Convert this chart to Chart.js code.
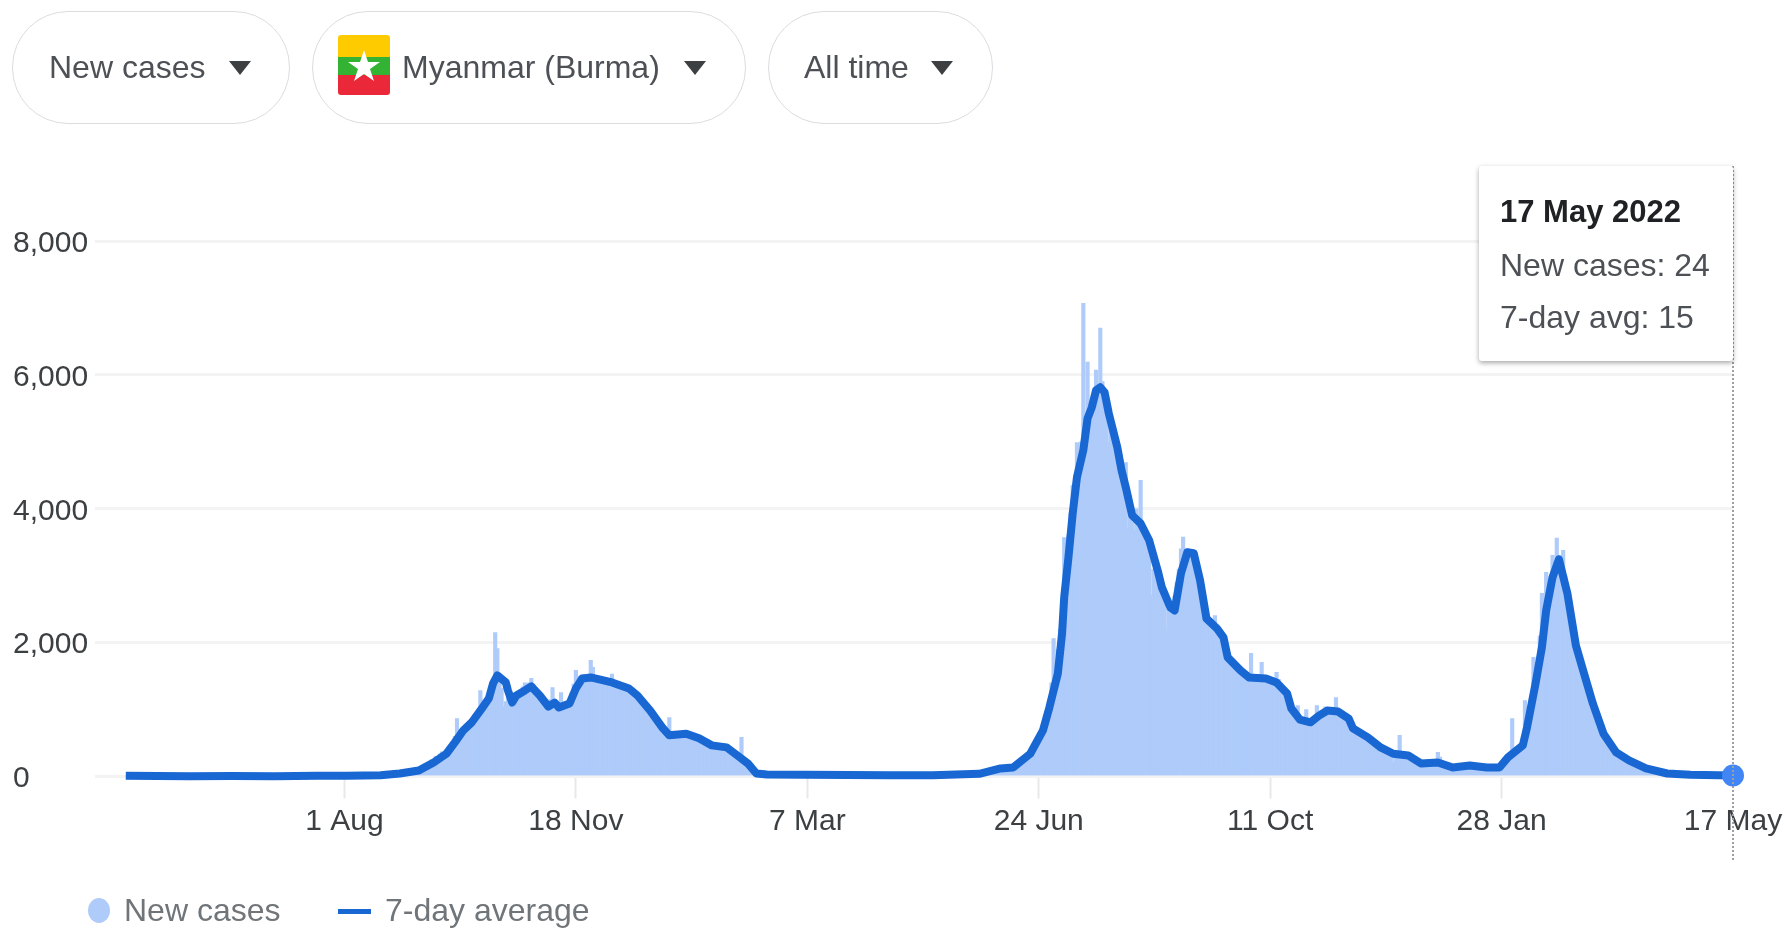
<!DOCTYPE html>
<html>
<head>
<meta charset="utf-8">
<title>Myanmar (Burma) new cases</title>
<script src="https://cdn.jsdelivr.net/npm/chart.js@4/dist/chart.umd.min.js"></script>
<style>
    html, body { margin: 0; padding: 0; background: #fff; overflow: hidden; }
    body { width: 1785px; height: 930px; position: relative; font-family: "Liberation Sans", Arial, sans-serif; }
    canvas { position: absolute; left: 0; top: 0; }
    .btn {
        position: absolute; top: 11px; height: 113px; box-sizing: border-box;
        border: 1.5px solid #dadce0; border-radius: 56px; background: #fff;
        color: #4d5156; font-size: 32px; line-height: 110px; white-space: nowrap;
    }
    .btn span { position: absolute; top: 0; }
    .caret {
        position: absolute; top: 49px; width: 0; height: 0;
        border-left: 11px solid transparent; border-right: 11px solid transparent;
        border-top: 14px solid #3c4043;
    }
    .flag {
        position: absolute; left: 338px; top: 35px; width: 52px; height: 60px; z-index: 2;
        border-radius: 3px; overflow: hidden;
    }
    .tip {
        position: absolute; left: 1479px; top: 166px; width: 254px; height: 195px;
        background: #fff; border-radius: 3px; box-shadow: 0 2px 5px rgba(0,0,0,.35);
        color: #4d5156; font-size: 32px; z-index: 3;
    }
    .tip div { position: absolute; left: 21px; white-space: nowrap; }
    .legend { position: absolute; top: 889px; color: #70757a; font-size: 32px; line-height: 42px; white-space: nowrap; }
    .swatch-dot { position: absolute; left: 88px; top: 898px; width: 22px; height: 25px; border-radius: 50%; background: #aecbfa; }
    .swatch-line { position: absolute; left: 338px; top: 909px; width: 33px; height: 5px; background: #1967d2; }
</style>
</head>
<body>

<canvas id="chart" width="1785" height="930"></canvas>

<div class="btn" style="left:12px;width:278px"><span style="left:36px">New cases</span><i class="caret" style="left:216px"></i></div>
<div class="btn" style="left:312px;width:434px"><span style="left:89px">Myanmar (Burma)</span><i class="caret" style="left:371px"></i></div>
<div class="btn" style="left:768px;width:225px"><span style="left:35px">All time</span><i class="caret" style="left:162px"></i></div>

<svg class="flag" viewBox="0 0 52 60">
    <rect width="52" height="22" fill="#fecb00"/>
    <rect y="22" width="52" height="18" fill="#34b233"/>
    <rect y="40" width="52" height="20" fill="#ea2839"/>
    <polygon points="26,15 30,27 42,27 32,34 36,46 26,39 16,46 20,34 10,27 22,27" fill="#fff"/>
</svg>

<div class="tip">
    <div style="top:28px;font-weight:bold;font-size:31px;color:#202124">17 May 2022</div>
    <div style="top:81px">New cases: 24</div>
    <div style="top:133px">7-day avg: 15</div>
</div>

<i class="swatch-dot"></i>
<div class="legend" style="left:124px">New cases</div>
<i class="swatch-line"></i>
<div class="legend" style="left:385px">7-day average</div>

<script>
const tickDays = [103, 212, 321, 430, 539, 648, 757];
const tickLabels = ['1 Aug', '18 Nov', '7 Mar', '24 Jun', '11 Oct', '28 Jan', '17 May'];
const lastDay = 757;

// daily new cases, first wave, starts on day 120
const waveOneStart = 120;
const waveOneCases = [
    20, 25, 18, 30, 28, 35, 40, 32, 45, 50,
    55, 48, 60, 75, 70, 80, 95, 90, 110, 130,
    150, 170, 160, 220, 250, 240, 300, 280, 340, 370,
    320, 360, 420, 470, 520, 600, 865, 640, 680, 720,
    760, 730, 790, 850, 830, 950, 1000, 1285, 1090, 1150,
    1180, 1210, 1300, 1380, 2150, 1910, 1500, 1320, 1045, 1120,
    1180, 1150, 1120, 1250, 1240, 1220, 1290, 1340, 1400, 1350,
    1400, 1465, 1380, 1330, 1250, 1180, 1120, 1080, 1040, 1010,
    1150, 1330, 1050, 1020, 1100, 1255, 1040, 1060, 1080, 1120,
    1250, 1380, 1585, 1480, 1500, 1520, 1480, 1460, 1500, 1735,
    1630, 1490, 1440, 1470, 1450, 1420, 1440, 1420, 1400, 1530,
    1400, 1380, 1350, 1390, 1350, 1330, 1300, 1290, 1300, 1250,
    1220, 1180, 1150, 1120, 1090, 1040, 1000, 960, 920, 880,
    830, 790, 750, 700, 660, 640, 880, 620, 650, 600,
    640, 610, 560, 650, 620, 640, 600, 590, 580, 560,
    550, 560, 520, 500, 490, 470, 460, 440, 450, 430,
    430, 420, 440, 410, 400, 370, 350, 300, 330, 310,
    585, 280, 240, 200, 170, 150, 110, 70, 45, 35,
    30
];

// daily new cases, later waves, starts on day 400
const waveTwoStart = 400;
const waveTwoCases = [
    30, 35, 40, 60, 55, 70, 80, 90, 100, 120,
    110, 130, 150, 145, 160, 140, 130, 150, 170, 190,
    200, 230, 250, 280, 300, 340, 380, 420, 480, 520,
    600, 650, 720, 800, 950, 1150, 1400, 2060, 1600, 1900,
    2200, 2600, 3570, 3100, 3600, 3930, 4350, 4305, 4990, 4800,
    5000, 7070, 5400, 6190, 5200, 5500, 5600, 6070, 5700, 6700,
    5900, 5600, 5700, 4990, 5200, 5000, 4900, 5000, 4700, 4600,
    4400, 4690, 3700, 4200, 3800, 3680, 4000, 3900, 4425, 3700,
    3600, 3500, 3400, 2705, 3100, 3000, 2950, 2800, 2700, 2600,
    2210, 2500, 2450, 2550, 2700, 2900, 3100, 3400, 3575, 3300,
    3400, 3300, 3350, 3250, 3000, 2950, 2800, 2600, 2400, 2300,
    2350, 2250, 2300, 2405, 2100, 2150, 2050, 2000, 1800, 1700,
    1720, 1650, 1600, 1620, 1560, 1540, 1520, 1500, 1480, 1500,
    1840, 1480, 1420, 1460, 1400, 1705, 1430, 1400, 1450, 1420,
    1400, 1450, 1555, 1450, 1380, 1300, 1250, 1200, 1050, 1000,
    950, 900, 1060, 880, 820, 860, 1000, 800, 830, 850,
    880, 1060, 920, 940, 950, 1040, 980, 970, 1000, 960,
    1180, 960, 950, 940, 900, 870, 850, 780, 720, 700,
    670, 650, 620, 630, 600, 590, 560, 540, 520, 510,
    470, 450, 430, 440, 400, 380, 350, 210, 360, 340,
    615, 330, 320, 350, 340, 310, 300, 270, 240, 220,
    200, 180, 190, 210, 220, 190, 200, 240, 360, 290,
    230, 200, 160, 150, 130, 140, 150, 160, 180, 170,
    150, 160, 180, 170, 190, 160, 140, 150, 130, 140,
    130, 140, 150, 130, 120, 140, 130, 150, 180, 200,
    260, 300, 320, 865, 380, 400, 430, 480, 520, 1135,
    780, 850, 1100, 1780, 1450, 1700, 2100, 2735, 2500, 3050,
    2700, 2900, 3305, 3200, 3560, 3300, 3250, 3380, 3000, 2700,
    2450, 2300, 2100, 1900, 1800, 1650, 1500, 1350, 1250, 1100,
    1050, 980, 900, 800, 720, 650, 590, 530, 480, 430,
    400, 370, 340, 320, 300, 280, 260, 240, 230, 215,
    200, 185, 170, 160, 150, 135, 120, 105, 95, 85,
    75, 70, 60, 55, 50, 45, 42, 40, 35, 33,
    30, 28, 26, 25, 22, 24, 20, 20, 18, 22,
    18, 15, 16, 20, 14, 12, 15, 18, 14, 12,
    13, 16, 12, 14, 10, 13, 11, 24
];

// 7-day average
const avgDays = [
    0, 15, 30, 50, 70, 90, 104, 120, 129, 138, 145, 151, 155, 159, 163, 168, 171, 173, 175, 179,
    180, 182, 184, 188, 191, 195, 199, 202, 204, 209, 212, 215, 219, 223, 229, 237, 241, 247, 253, 256,
    264, 270, 276, 283, 288, 293, 297, 302, 320, 340, 360, 380, 402, 412, 418, 426, 432, 435, 439, 441,
    442, 444, 446, 448, 451, 453, 455, 457, 459, 461, 463, 467, 469, 471, 474, 478, 482, 486, 488, 492,
    494, 497, 500, 503, 506, 509, 514, 517, 519, 525, 529, 537, 542, 547, 549, 553, 558, 562, 566, 571,
    576, 578, 585, 591, 597, 604, 610, 618, 625, 633, 641, 647, 651, 658, 660, 664, 667, 669, 672, 675,
    679, 683, 686, 691, 696, 702, 708, 716, 726, 737, 757
];
const avgValues = [
    12, 6, 4, 8, 5, 10, 12, 20, 45, 90, 210, 340, 510, 690, 810, 1030, 1165, 1390, 1510, 1405,
    1285, 1105, 1210, 1285, 1345, 1210, 1045, 1105, 1030, 1090, 1315, 1465, 1480, 1450, 1405, 1315, 1210, 985, 720, 615,
    640, 570, 465, 435, 315, 195, 45, 30, 25, 22, 20, 18, 40, 120, 135, 340, 690, 1030, 1540, 2140,
    2680, 3275, 3930, 4470, 4875, 5350, 5515, 5770, 5815, 5740, 5425, 4920, 4575, 4320, 3900, 3780, 3530, 3080, 2825, 2525,
    2480, 3035, 3350, 3335, 2930, 2360, 2210, 2080, 1780, 1585, 1480, 1465, 1405, 1240, 1015, 850, 810, 910, 985, 970,
    865, 720, 585, 435, 340, 315, 195, 210, 135, 165, 135, 135, 285, 465, 735, 1390, 1930, 2480, 2975, 3245,
    2735, 1960, 1630, 1090, 640, 360, 240, 120, 45, 25, 15
];

const LABEL_FONT = { family: '"Liberation Sans", Arial, sans-serif', size: 30 };

// dotted marker for the hovered day
const hoverLine = {
    id: 'hoverLine',
    afterDatasetsDraw(chart) {
        const x = chart.scales.x.getPixelForValue(lastDay);
        const ctx = chart.ctx;
        ctx.save();
        ctx.strokeStyle = '#9aa0a6';
        ctx.lineWidth = 2;
        ctx.setLineDash([2, 2]);
        ctx.beginPath();
        ctx.moveTo(x, 166);
        ctx.lineTo(x, 862);
        ctx.stroke();
        ctx.restore();
    }
};

function toPoints(start, values) {
    return values.map((v, i) => ({ x: start + i, y: v }));
}

new Chart(document.getElementById('chart'), {
    type: 'bar',
    data: {
        datasets: [
            {
                type: 'scatter',
                label: 'Selected day',
                data: [{ x: lastDay, y: avgValues[avgValues.length - 1] }],
                backgroundColor: '#4285f4',
                borderWidth: 0,
                pointRadius: 11,
                clip: false,
                order: 0
            },
            {
                type: 'line',
                label: '7-day average',
                data: avgDays.map((d, i) => ({ x: d, y: avgValues[i] })),
                borderColor: '#1967d2',
                borderWidth: 8,
                borderJoinStyle: 'round',
                pointRadius: 0,
                tension: 0,
                clip: false,
                order: 1
            },
            {
                label: 'New cases',
                data: toPoints(waveOneStart, waveOneCases).concat(toPoints(waveTwoStart, waveTwoCases)),
                backgroundColor: '#aecbfa',
                barThickness: 3.5,
                order: 2
            }
        ]
    },
    plugins: [hoverLine],
    options: {
        responsive: false,
        maintainAspectRatio: false,
        animation: false,
        layout: { padding: { top: 241, right: 52, left: 13, bottom: 0 } },
        plugins: {
            legend: { display: false },
            tooltip: { enabled: false }
        },
        scales: {
            x: {
                type: 'linear',
                offset: false,
                min: -14.5,
                max: lastDay,
                afterFit(scale) {
                    scale.height = 153.5;
                    scale.paddingLeft = 0;
                    scale.paddingRight = 0;
                },
                afterBuildTicks(scale) {
                    scale.ticks = tickDays.map(d => ({ value: d }));
                },
                border: { display: false },
                grid: {
                    offset: false,
                    drawOnChartArea: false,
                    drawTicks: true,
                    tickLength: 22,
                    tickWidth: 2,
                    tickColor: ctx => (ctx.tick && ctx.tick.value === lastDay ? 'rgba(0,0,0,0)' : '#e8e8e8')
                },
                ticks: {
                    autoSkip: false,
                    maxRotation: 0,
                    padding: 5,
                    color: '#3c4043',
                    font: LABEL_FONT,
                    callback: value => tickLabels[tickDays.indexOf(value)]
                }
            },
            y: {
                min: 0,
                max: 8000,
                afterFit(scale) { scale.width = 82; },
                border: { display: false },
                grid: { color: '#f3f3f3', lineWidth: 3, drawTicks: false },
                ticks: {
                    stepSize: 2000,
                    crossAlign: 'far',
                    labelOffset: 2.5,
                    color: '#3c4043',
                    font: LABEL_FONT,
                    callback: value => value.toLocaleString('en-US')
                }
            }
        }
    }
});
</script>
</body>
</html>
